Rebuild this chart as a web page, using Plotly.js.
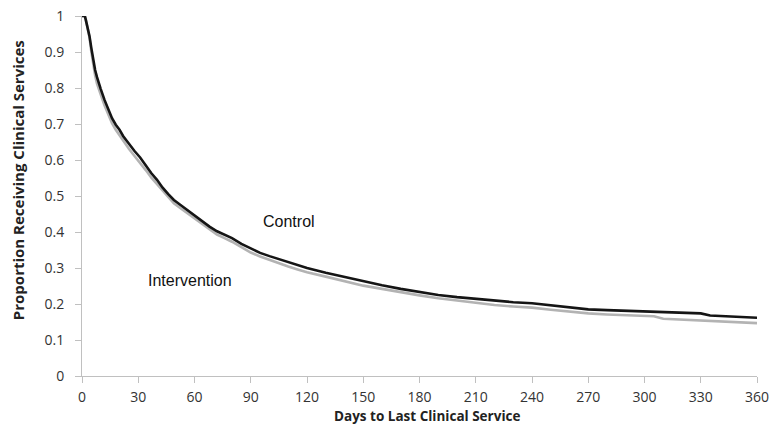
<!DOCTYPE html>
<html>
<head>
<meta charset="utf-8">
<script src="https://cdn.plot.ly/plotly-3.0.1.min.js"></script>
<style>html,body{margin:0;padding:0;background:#fff;}#chart{width:769px;height:426px;}</style>
</head>
<body>
<div id="chart"></div>
<script>
const controlDays = [0,1.5,2,3,4,5,6,7,8,9,10,12,14,16,18,20,22,25,28,31,34,37,40,43,46,49,52,56,60,64,68,72,76,80,85,90,95,100,105,110,115,120,130,140,150,160,170,180,190,200,210,220,230,240,250,260,270,280,290,300,310,320,330,335,340,350,360];
const controlProp = [1,1,0.99,0.97,0.944,0.91,0.876,0.85,0.83,0.812,0.797,0.767,0.74,0.716,0.698,0.684,0.666,0.645,0.625,0.607,0.585,0.563,0.545,0.523,0.505,0.489,0.477,0.461,0.446,0.43,0.415,0.402,0.392,0.383,0.367,0.354,0.342,0.333,0.325,0.316,0.308,0.3,0.287,0.275,0.262,0.252,0.242,0.233,0.225,0.219,0.214,0.209,0.205,0.202,0.196,0.19,0.185,0.183,0.181,0.179,0.177,0.176,0.174,0.168,0.167,0.165,0.162];
const interventionDays = [0,1.5,2,3,4,5,6,7,8,9,10,12,14,16,18,20,22,25,28,31,34,37,40,43,46,49,52,56,60,64,68,72,76,80,85,90,95,100,105,110,115,120,130,140,150,160,170,180,190,200,210,220,230,240,250,260,270,280,290,300,305,310,320,330,340,350,360];
const interventionProp = [1,1,0.99,0.965,0.94,0.9,0.865,0.835,0.812,0.795,0.782,0.752,0.725,0.702,0.684,0.668,0.652,0.631,0.611,0.593,0.572,0.551,0.533,0.513,0.496,0.48,0.468,0.453,0.437,0.421,0.406,0.393,0.383,0.373,0.358,0.343,0.332,0.322,0.313,0.304,0.296,0.288,0.276,0.263,0.251,0.242,0.232,0.224,0.216,0.209,0.203,0.197,0.193,0.19,0.184,0.178,0.174,0.171,0.169,0.167,0.166,0.159,0.157,0.155,0.153,0.149,0.147];
const xTicks = [0,30,60,90,120,150,180,210,240,270,300,330,360];
const yTicks = [0,0.1,0.2,0.3,0.4,0.5,0.6,0.7,0.8,0.9,1];
const yTickLabels = ["0","0.1","0.2","0.3","0.4","0.5","0.6","0.7","0.8","0.9","1"];
const seriesNames = ["Intervention","Control"];
const xTitle = "Days to Last Clinical Service";
const yTitle = "Proportion Receiving Clinical Services";

const traces = [
  {x: interventionDays, y: interventionProp, mode:'lines', name: seriesNames[0],
   line:{color:'#b3b3b3', width:2.6}, hoverinfo:'x+y'},
  {x: controlDays, y: controlProp, mode:'lines', name: seriesNames[1],
   line:{color:'#151515', width:2.6}, hoverinfo:'x+y'}
];

const axisFont = {family:'Open Sans, Liberation Sans, sans-serif', size:14, color:'#333'};
const titleFamily = 'Open Sans, Liberation Sans, sans-serif';
const layout = {
  width:769, height:426,
  margin:{l:82, r:12, t:16, b:50},
  paper_bgcolor:'#fff', plot_bgcolor:'#fff',
  showlegend:false,
  xaxis:{
    range:[0,360], tickmode:'array', tickvals:xTicks, ticktext:xTicks.map(String),
    showgrid:false, zeroline:false, showline:true, linecolor:'#c0c0c0', linewidth:1,
    ticks:'outside', ticklen:6, tickcolor:'#c0c0c0', tickfont:axisFont, ticklabelstandoff:2,
    ticklabeloverflow:'allow'
  },
  yaxis:{
    range:[0,1], tickmode:'array', tickvals:yTicks, ticktext:yTickLabels,
    showgrid:false, zeroline:false, showline:true, linecolor:'#c0c0c0', linewidth:1,
    ticks:'outside', ticklen:6, tickcolor:'#c0c0c0', tickfont:axisFont, ticklabelstandoff:8,
    ticklabeloverflow:'allow'
  },
  annotations:[
    {x:110.4, y:0.428, xref:'x', yref:'y', text:seriesNames[1], showarrow:false,
     font:{family:'Liberation Sans, Arial, sans-serif', size:16, color:'#111'}},
    {x:57.6, y:0.264, xref:'x', yref:'y', text:seriesNames[0], showarrow:false,
     font:{family:'Liberation Sans, Arial, sans-serif', size:16, color:'#111'}},
    {x:0.511, y:-0.11, xref:'paper', yref:'paper', text:'<b>'+xTitle+'</b>', showarrow:false,
     xanchor:'center', yanchor:'middle', font:{family:titleFamily, size:13.5, color:'#222'}},
    {x:-0.0948, y:0.544, xref:'paper', yref:'paper', text:'<b>'+yTitle+'</b>', showarrow:false,
     textangle:-90, xanchor:'center', yanchor:'middle', font:{family:titleFamily, size:15, color:'#222'}}
  ]
};
Plotly.newPlot('chart', traces, layout, {displayModeBar:false, staticPlot:true});
</script>
</body>
</html>
